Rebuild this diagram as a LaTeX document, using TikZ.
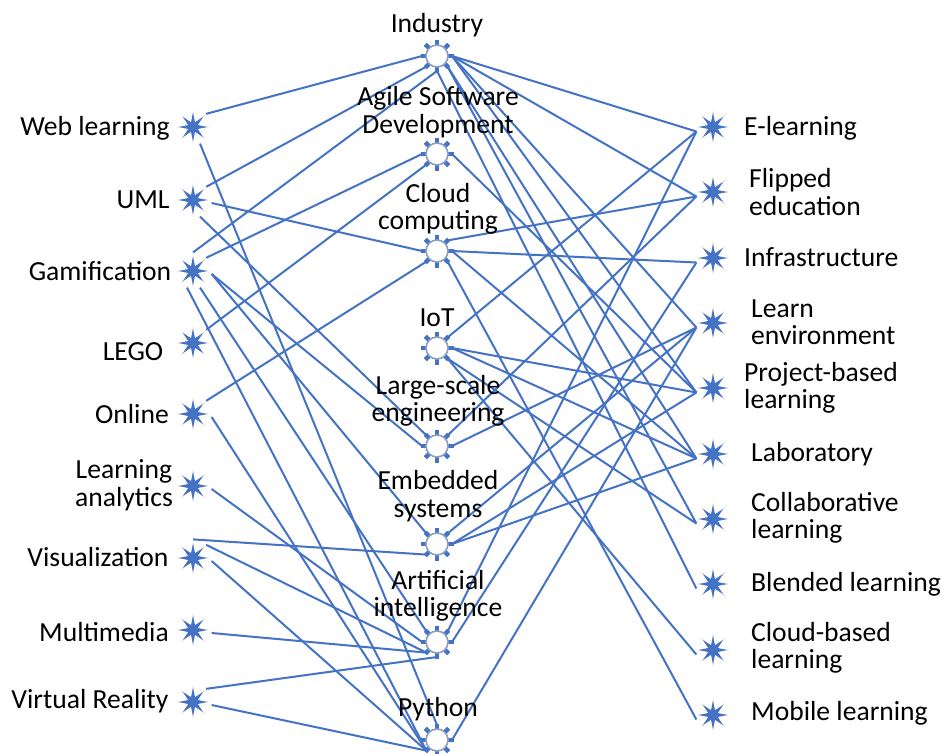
\documentclass[tikz,border=0pt]{standalone}
\usepackage{fontspec}
\setmainfont{Carlito}
\usetikzlibrary{shapes.geometric}
\definecolor{linkblue}{HTML}{4472C4}
\definecolor{rimgray}{HTML}{8E9FC0}
\tikzset{
	link/.style={draw=linkblue,line width=2pt},
	kwstar/.style={shape=star,star points=8,star point ratio=4,minimum size=34pt,inner sep=0pt,fill=gray!40},
	kwcore/.style={shape=star,star points=8,star point ratio=2.7,minimum size=28pt,inner sep=0pt,fill=linkblue},
	kwgear/.style={shape=circle,minimum size=22pt,inner sep=0pt,outer sep=4pt,fill=white,draw=rimgray,line width=1.6pt},
	tooth/.style={draw=linkblue,line width=4.4pt},
	kwtext/.style={font=\fontsize{27.6}{27.5}\selectfont,inner sep=0pt},
}
\begin{document}
\begin{tikzpicture}[x=1pt,y=-1pt]
	\useasboundingbox (0,0) rectangle (942,753);
	% Left and right columns of stars
	\foreach \n/\x/\y in {Web/193/127,Uml/193/200,Gam/193/271,Lego/193/343,Onl/193/414,Lana/193/486,Vis/193/558,Mm/193/630,Vr/193/702,
		Eln/713/127,Flp/713/192,Inf/713/258,Env/713/323,Prj/713/388,Lab/713/454,Col/713/519,Bln/713/584,Cbl/713/650,Mob/713/715}{
		\node[kwstar] (\n) at (\x,\y) {};
		\node[kwcore] (\n-c) at (\x,\y) {};
		\coordinate (\n-e) at ([yshift=-3pt]\n.east);
		\coordinate (\n-s) at ([xshift=7pt,yshift=2pt]\n.south);
		\coordinate (\n-sw) at ([xshift=-6pt,yshift=2pt]\n.south);
		\coordinate (\n-w) at ([xshift=2pt,yshift=-4.5pt]\n.west);
	}
	% Gears in the middle
	\foreach \n/\y in {Ind/56,Agl/154,Cld/251,Iot/348,Lrg/446,Emb/544,Ai/642,Py/740}{
		\foreach \a in {0,45,...,315}
			\draw[tooth] (437,\y) ++(\a:10) -- ++(\a:6.5);
		\node[kwgear] (\n) at (437,\y) {};
	}
	% Connectors
	\foreach \a/\b in {Web.north east/Ind.west,Web-s/Py.north,
		Uml.north east/Ind.south west,Uml-e/Cld.west,Uml-s/Lrg.north west,
		Gam.north/Ind.south,Gam.north east/Agl.west,Gam-e/Lrg.west,Gam-e/Emb.north west,Gam-sw/Py.south west,Gam-s/Ai.north west,
		Lego.north east/Agl.south west,Onl.north east/Cld.south west,Onl-e/Py.south west,
		Lana-e/Ai.west,Vis.north/Emb.south west,Vis.north east/Ai.south west,Vis-e/Py.south west,
		Mm-e/Ai.south west,Vr.north east/Ai.south,Vr-e/Py.south west,
		Ind.east/Eln-w,Ind.east/Flp-w,Ind.east/Env-w,Ind.east/Prj-w,Ind.south east/Lab-w,Ind.south east/Col-w,Ind.south/Bln-w,
		Agl.east/Prj-w,
		Cld.north east/Flp-w,Cld.east/Inf-w,Cld.east/Lab-w,Cld.south east/Mob-w,
		Iot.north east/Eln-w,Iot.east/Prj-w,Iot.east/Lab-w,Iot.south east/Col-w,Iot.south east/Cbl-w,
		Lrg.north east/Flp-w,Lrg.east/Env-w,
		Emb.north east/Env-w,Emb.east/Prj-w,Emb.east/Lab-w,
		Ai.north east/Eln-w,Ai.east/Inf-w,Py.east/Env-w}{
		\draw[link] (\a) -- (\b);
	}
	% Labels of the left column and the gears
	\foreach \n/\x/\y/\t in {Web/95/128/Web learning,Uml/143/200/UML,Gam/100/271/Gamification,Lego/133/352/LEGO,Onl/132/414/Online,
		Lana/124/485/{Learning\\analytics},Vis/98/557/Visualization,Mm/104/632/Multimedia,Vr/90/701/Virtual Reality,
		Ind/437/25/Industry,Agl/438/112/{Agile Software\\Development},Cld/438/209/{Cloud\\computing},Iot/437/318/IoT,
		Lrg/438/401/{Large-scale\\engineering},Emb/438/496/{Embedded\\systems},Ai/438/596/{Artificial\\intelligence},Py/438/709/Python}{
		\node[kwtext,align=center] (\n-l) at (\x,\y) {\t};
	}
	% Labels of the right column
	\foreach \n/\x/\y/\t in {Eln/744/128/E-learning,Flp/749/192/{Flipped\\education},Inf/744/257/Infrastructure,Env/751/322/{Learn\\environment},
		Prj/744/388/{Project-based\\learning},Lab/751/454/Laboratory,Col/751/518/{Collaborative\\learning},Bln/751/584/Blended learning,
		Cbl/751/648/{Cloud-based\\learning},Mob/751/713/Mobile learning}{
		\node[kwtext,align=left,anchor=west] (\n-l) at (\x,\y) {\t};
	}
\end{tikzpicture}
\end{document}
